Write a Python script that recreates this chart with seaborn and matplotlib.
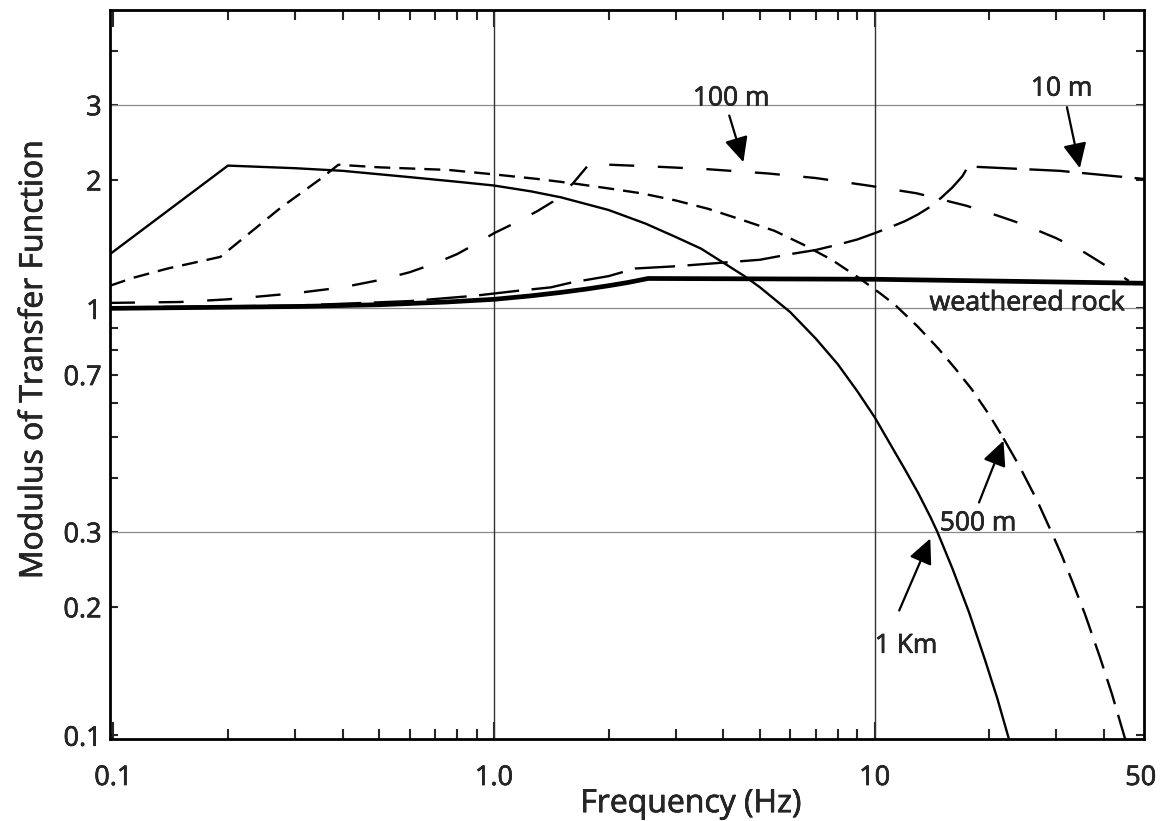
import pandas as pd
import seaborn as sns
import matplotlib.pyplot as plt
import matplotlib.patheffects as pe

# values (frequency in Hz, modulus of transfer function)
freq_1km = [0.098, 0.2, 0.3, 0.4, 0.6, 0.8, 1.0, 1.25, 1.5, 2.0, 2.5, 3.0, 3.5, 4.0, 4.55, 5.0, 6.0, 7.0,
            8.0, 9.0, 10.0, 11.0, 12.0, 13.0, 14.0, 14.6, 16.0, 17.7, 19.5, 21.0, 22.6]
amp_1km = [1.34, 2.16, 2.13, 2.10, 2.03, 1.98, 1.94, 1.88, 1.82, 1.70, 1.58, 1.47, 1.38, 1.28, 1.19, 1.12,
           0.98, 0.85, 0.74, 0.64, 0.556, 0.48, 0.42, 0.37, 0.325, 0.30, 0.246, 0.194, 0.150, 0.122, 0.097]

freq_500 = [0.098, 0.113, 0.139, 0.191, 0.203, 0.275, 0.35, 0.39, 0.5, 0.76, 1.0, 1.3, 1.63, 2.0, 2.44,
            3.0, 3.66, 4.5, 5.45, 6.5, 7.71, 9.08, 10.4, 11.3, 13.0, 14.7, 16.3, 18.0, 20.0, 21.8]
amp_500 = [1.13, 1.18, 1.24, 1.32, 1.38, 1.72, 2.01, 2.17, 2.14, 2.11, 2.06, 2.01, 1.96, 1.91, 1.86,
           1.79, 1.71, 1.61, 1.52, 1.41, 1.30, 1.18, 1.08, 1.02, 0.905, 0.805, 0.722, 0.646, 0.563, 0.496]
freq_500_tail = [21.8, 24.0, 26.7, 29.2, 31.0, 33.0, 35.7, 39.1, 42.0, 45.5]
amp_500_tail = [0.496, 0.427, 0.355, 0.298, 0.264, 0.23, 0.192, 0.152, 0.125, 0.098]

freq_100 = [0.098, 0.15, 0.2, 0.3, 0.4, 0.5, 0.6, 0.7, 0.8, 0.9, 1.0, 1.16, 1.3, 1.43, 1.61, 1.78,
            2.6, 3.6, 5.26, 7.0, 9.6, 12.9, 17.4, 21.0, 24.7, 30.0, 35.7, 41.0, 46.5]
amp_100 = [1.03, 1.035, 1.05, 1.085, 1.12, 1.165, 1.215, 1.275, 1.34, 1.42, 1.50, 1.60, 1.69, 1.78, 1.96, 2.18,
           2.15, 2.12, 2.07, 2.02, 1.94, 1.86, 1.74, 1.65, 1.57, 1.46, 1.35, 1.25, 1.16]

freq_10 = [0.098, 0.3, 0.6, 0.886, 1.16, 1.41, 1.6, 2.0, 2.35, 3.0, 4.0, 5.0, 6.0, 7.0, 8.0, 9.0,
           10.0, 11.0, 12.0, 13.0, 14.0, 15.0, 16.0, 17.0, 17.6, 30.6, 51]
amp_10 = [1.005, 1.015, 1.04, 1.07, 1.10, 1.12, 1.15, 1.19, 1.24, 1.255, 1.28, 1.30, 1.34, 1.37, 1.41, 1.45,
          1.50, 1.55, 1.60, 1.66, 1.73, 1.82, 1.92, 2.04, 2.15, 2.10, 2.01]

freq_rock = [0.098, 0.3, 0.5, 0.75, 1.0, 1.25, 1.5, 1.75, 2.0, 2.25, 2.54, 10, 51]
amp_rock = [1.0, 1.01, 1.02, 1.035, 1.05, 1.07, 1.09, 1.11, 1.13, 1.15, 1.175, 1.17, 1.145]

xtick_vals = [0.1, 1, 10, 50]
xtick_labels = ['0.1', '1.0', '10', '50']
xminor = [0.2, 0.3, 0.4, 0.5, 0.6, 0.7, 0.8, 0.9, 2, 3, 4, 5, 6, 7, 8, 9, 20, 30, 40]
ytick_vals = [0.1, 0.2, 0.3, 0.7, 1, 2, 3]
ytick_labels = ['0.1', '0.2', '0.3', '0.7', '1', '2', '3']
yminor = [0.4, 0.5, 0.6, 0.8, 0.9, 4]

# label text, text position, arrow tail, arrow tip
notes = [
    ('100 m', (4.2, 2.99), (4.15, 2.83), (4.52, 2.2)),
    ('10 m', (31.0, 3.15), (32.0, 2.96), (34.6, 2.13)),
    ('500 m', (18.7, 0.302), (18.8, 0.351), (21.8, 0.49)),
    ('1 Km', (12.1, 0.156), (11.6, 0.196), (14.0, 0.289)),
]

sns.set_style('ticks')
plt.rcParams['font.family'] = ['Open Sans', 'DejaVu Sans']
plt.rcParams['lines.scale_dashes'] = False
heavy = [pe.withStroke(linewidth=0.45, foreground='black')]

fig = plt.figure(figsize=(11.63, 8.21), dpi=100)
ax = fig.add_axes([110 / 1163, 1 - 739 / 821, 1034 / 1163, 729 / 821])
ax.set_xscale('log')
ax.set_yscale('log')

# grid lines
for gy in [0.3, 1, 3]:
    ax.axhline(gy, color='#8a8a8a', lw=0.9, zorder=1)
for gx in [1, 10]:
    ax.axvline(gx, color='#333333', lw=1.0, zorder=1)

line_kw = dict(ax=ax, color='black', estimator=None, sort=False)
sns.lineplot(x=freq_rock, y=amp_rock, lw=3.4, **line_kw)
sns.lineplot(x=freq_1km, y=amp_1km, lw=1.7, **line_kw)
sns.lineplot(x=freq_500, y=amp_500, lw=1.7, linestyle=(0, (11.5, 6.5)), **line_kw)
sns.lineplot(x=freq_500_tail, y=amp_500_tail, lw=1.7, linestyle=(0, (19, 8)), **line_kw)
sns.lineplot(x=freq_100, y=amp_100, lw=1.7, linestyle=(0, (18, 17)), **line_kw)
sns.lineplot(x=freq_10, y=amp_10, lw=1.7, linestyle=(0, (29, 9)), **line_kw)

for label, pos, tail, tip in notes:
    ax.annotate('', xy=tip, xytext=tail,
                arrowprops=dict(arrowstyle='-|>,head_length=0.95,head_width=0.45', color='black',
                                lw=1.6, mutation_scale=16, shrinkA=0, shrinkB=0))
    ax.text(pos[0], pos[1], label, ha='center', va='baseline', fontsize=19, path_effects=heavy)

ax.text(25.1, 0.99, 'weathered rock', ha='center', va='baseline', fontsize=19.3, path_effects=heavy)

ax.set_xlim(0.098, 51)
ax.set_ylim(0.098, 5.0)

ax.set_xticks(xtick_vals, xtick_labels)
ax.set_xticks(xminor, minor=True)
ax.set_yticks(ytick_vals, ytick_labels)
ax.set_yticks(yminor, minor=True)
ax.tick_params(axis='x', which='major', direction='in', length=12, width=1.5, pad=18,
               labelsize=19.5, top=True, bottom=True)
ax.tick_params(axis='x', which='minor', direction='in', length=7, width=1.5, top=True, bottom=True,
               labelbottom=False)
ax.tick_params(axis='y', which='both', direction='in', length=6, width=1.5, pad=6,
               labelsize=19.5, left=True, right=True)
ax.tick_params(axis='y', which='minor', labelleft=False)
ax.xaxis.get_major_ticks()[3].tick1line.set_visible(False)
ax.xaxis.get_major_ticks()[3].tick2line.set_visible(False)
for t in ax.get_xticklabels() + ax.get_yticklabels():
    t.set_path_effects(heavy)

for s in ax.spines.values():
    s.set_linewidth(2.0)
    s.set_color('black')

ax.set_xlabel('Frequency (Hz)', fontsize=23, path_effects=heavy)
ax.set_ylabel('Modulus of Transfer Function', fontsize=23, path_effects=heavy)
ax.xaxis.set_label_coords(0.562, -0.066)
ax.yaxis.set_label_coords(-0.058, 0.521)

fig.savefig('out.png', dpi=100)
